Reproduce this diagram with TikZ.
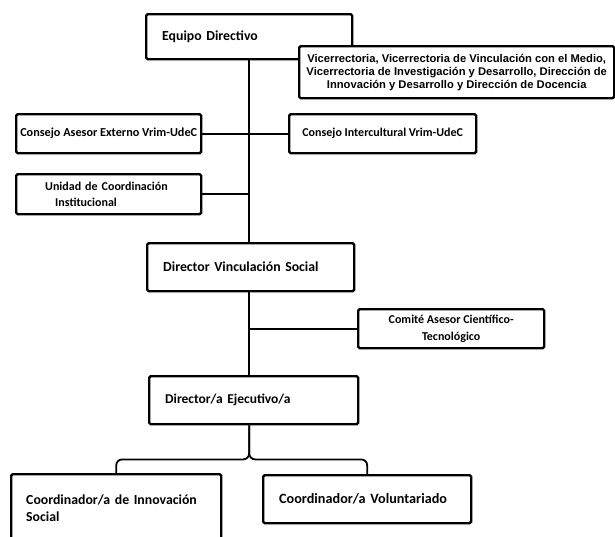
\documentclass[tikz,border=0pt]{standalone}
\usepackage{fontspec}
\setmainfont{Carlito}
\newfontfamily\arialfont{Liberation Sans}
\begin{document}
\begin{tikzpicture}[x=1pt,y=-1pt,
  box/.style={draw, line width=2.4pt, rounded corners=1.5pt, inner sep=0pt, anchor=north west},
  conn/.style={line width=1.8pt},
  bigtxt/.style={font=\bfseries\fontsize{13.8}{17}\selectfont},
  smalltxt/.style={font=\bfseries\fontsize{12}{15}\selectfont}]
\useasboundingbox (0,0) rectangle (615,536);
\clip (0,0) rectangle (615,536);
\fill[white] (0,0) rectangle (615,536);
% boxes
\node[box, bigtxt, minimum width=206pt, minimum height=45pt, text width=174pt, align=left] (eq) at (145,13) {Equipo Directivo};
\node[box, fill=white, minimum width=315pt, minimum height=52pt, align=center,
      font=\arialfont\bfseries\fontsize{11.2}{13}\selectfont] (vr) at (298,45)
  {Vicerrectoria, Vicerrectoria de Vinculación con el Medio,\\Vicerrectoria de Investigación y Desarrollo, Dirección de\\Innovación y Desarrollo y Dirección de Docencia};
\node[box, smalltxt, font=\bfseries\fontsize{12.2}{15}\selectfont, minimum width=185pt, minimum height=39pt] (cae) at (15,113) {Consejo Asesor Externo Vrim-UdeC};
\node[box, smalltxt, minimum width=187pt, minimum height=39pt] (ci) at (288,113) {Consejo Intercultural Vrim-UdeC};
\node[box, smalltxt, font=\bfseries\fontsize{12}{15.5}\selectfont, minimum width=185pt, minimum height=40pt, text width=127pt, align=left] (uci) at (15,173) {Unidad de Coordinación\\\hspace*{10pt}Institucional};
\node[box, bigtxt, minimum width=207pt, minimum height=48pt, text width=175pt, align=left] (dvs) at (146,242) {Director Vinculación Social};
\node[box, smalltxt, font=\bfseries\fontsize{12}{16.5}\selectfont, minimum width=186pt, minimum height=39pt, align=center] (cat) at (357,308) {Comité Asesor Científico-\\Tecnológico};
\node[box, bigtxt, font=\bfseries\fontsize{13.5}{17}\selectfont, minimum width=209pt, minimum height=48pt, text width=177pt, align=left] (dej) at (148,375) {Director/a Ejecutivo/a};
\node[box, bigtxt, minimum width=210pt, minimum height=67pt, text width=180pt, align=left] (cis) at (10,473) {Coordinador/a de Innovación\\Social};
\node[box, bigtxt, font=\bfseries\fontsize{14.2}{17}\selectfont, minimum width=208pt, minimum height=48pt, text width=176pt, align=left] (cvo) at (262,474) {Coordinador/a Voluntariado};
% connectors
\coordinate (a1) at (eq.south |- dvs.north);
\coordinate (a2) at (eq.south |- dvs.south);
\coordinate (a3) at (eq.south |- dej.north);
\coordinate (b0) at (eq.south |- dej.south);
\coordinate (br) at ([yshift=-34pt]b0);
\draw[conn] (eq.south) -- (a1);
\draw[conn] (cae.east) -- (ci.west);
\draw[conn] (uci.east) -- (uci.east -| eq.south);
\draw[conn] (a2) -- (a3);
\draw[conn] (cat.west) -- (cat.west -| eq.south);
\draw[conn, rounded corners=6pt] (b0) -- (br) -| (cis.north);
\draw[conn, rounded corners=6pt] (b0) -- (br) -| (cvo.north);
\end{tikzpicture}
\end{document}
